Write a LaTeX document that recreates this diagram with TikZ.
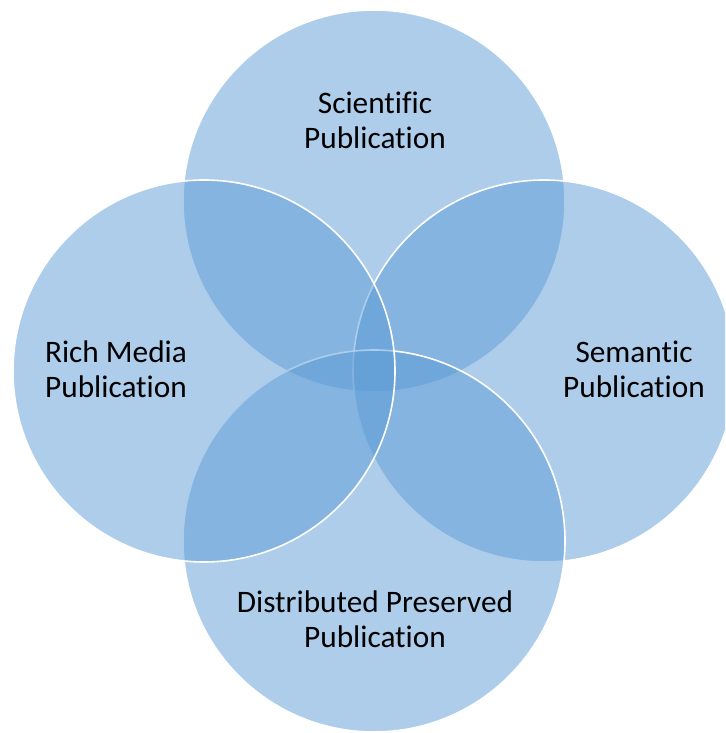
\documentclass[tikz,border=0pt]{standalone}
\usepackage{fontspec}
\setmainfont{Carlito}[Ligatures=NoCommon]
\usetikzlibrary{calc}
\definecolor{vennblue}{RGB}{91,155,213}

\begin{document}
\begin{tikzpicture}[x=1pt,y=1pt,every node/.style={align=center},
  venn/.style={circle,draw=white,line width=1.6pt,fill=vennblue,fill opacity=0.5,minimum size=382pt,inner sep=0pt},
  vennlabel/.style={font=\fontsize{31.3}{35}\selectfont,text=black,inner sep=0pt}]
\useasboundingbox (0,0) rectangle (725,733);
\clip (0,0) rectangle (725,733);
\node [venn] (Sci) at (374,532) {};
\node [venn] (Sem) at (544,362) {};
\node [venn] (Dist) at (374,192) {};
\node [venn] (Rich) at (204,362) {};
\node [vennlabel] (SciText) at ($(Sci)+(1,81)$) {Scientific\\Publication};
\node [vennlabel] (SemText) at ($(Sem)+(90,1.5)$) {Semantic\\Publication};
\node [vennlabel] (DistText) at ($(Dist)+(1,-78)$) {Distributed Preserved\\Publication};
\node [vennlabel] (RichText) at ($(Rich)+(-88,1.5)$) {Rich Media\\Publication};
\end{tikzpicture}
\end{document}
